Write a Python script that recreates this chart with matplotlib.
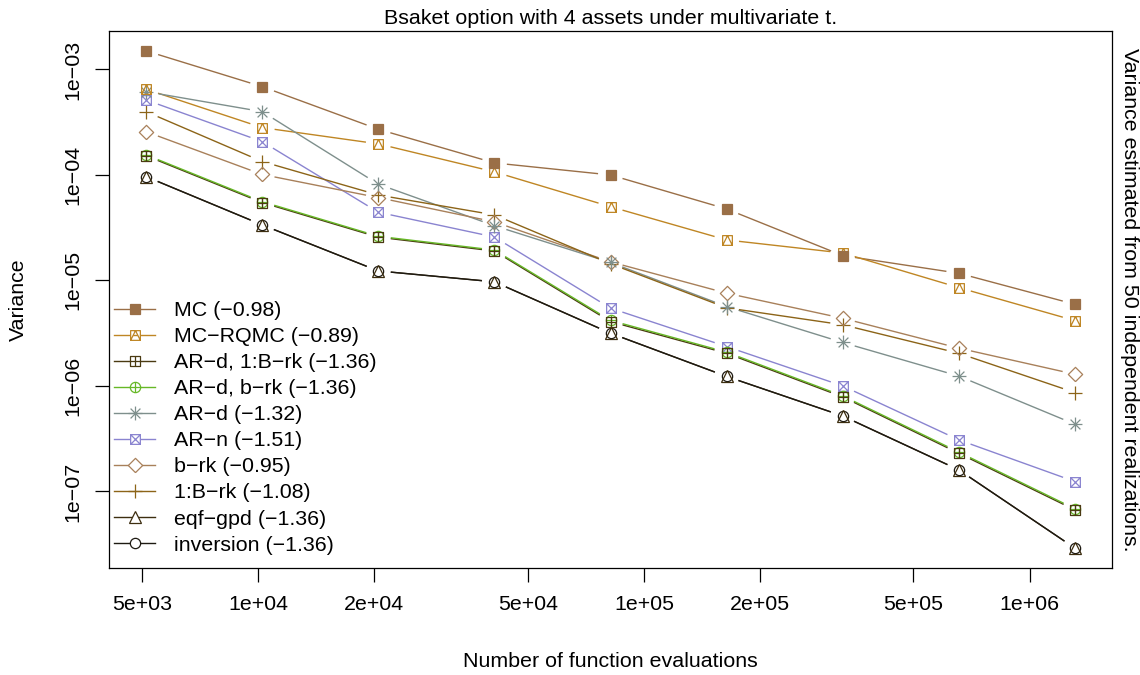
import numpy as np
import matplotlib
matplotlib.use("Agg")
import matplotlib.pyplot as plt
from matplotlib.path import Path
from matplotlib.lines import Line2D
from matplotlib.collections import LineCollection

plt.rcParams['font.family'] = ['Liberation Sans', 'DejaVu Sans']
plt.rcParams['font.size'] = 15.4

# number of function evaluations per run
n_evals = [5120, 10240, 20480, 40960, 81920, 163840, 327680, 655360, 1310720]

# estimated variances for each method
var_mc = [1.50e-3, 6.87e-4, 2.71e-4, 1.30e-4, 1.00e-4, 4.76e-5, 1.72e-5, 1.17e-5, 5.94e-6]
var_mc_rqmc = [6.49e-4, 2.81e-4, 1.97e-4, 1.07e-4, 5.00e-5, 2.42e-5, 1.82e-5, 8.55e-6, 4.16e-6]
var_ard_1brk = [1.52e-4, 5.47e-5, 2.57e-5, 1.90e-5, 4.07e-6, 2.04e-6, 7.87e-7, 2.30e-7, 6.68e-8]
var_ard_brk = [1.55e-4, 5.58e-5, 2.62e-5, 1.94e-5, 4.18e-6, 2.09e-6, 8.05e-7, 2.36e-7, 6.85e-8]
var_ard = [6.16e-4, 3.98e-4, 8.17e-5, 3.30e-5, 1.48e-5, 5.65e-6, 2.58e-6, 1.24e-6, 4.34e-7]
var_arn = [5.14e-4, 2.07e-4, 4.43e-5, 2.58e-5, 5.46e-6, 2.36e-6, 1.00e-6, 3.08e-7, 1.24e-7]
var_brk = [2.57e-4, 1.01e-4, 6.10e-5, 3.59e-5, 1.50e-5, 7.57e-6, 4.38e-6, 2.28e-6, 1.29e-6]
var_1brk = [3.98e-4, 1.34e-4, 6.45e-5, 4.18e-5, 1.44e-5, 5.50e-6, 3.80e-6, 2.04e-6, 8.65e-7]
var_eqf = [9.64e-5, 3.36e-5, 1.23e-5, 9.70e-6, 3.16e-6, 1.23e-6, 5.19e-7, 1.60e-7, 2.90e-8]
var_inv = [9.64e-5, 3.36e-5, 1.23e-5, 9.70e-6, 3.16e-6, 1.23e-6, 5.19e-7, 1.60e-7, 2.90e-8]

labels = ["MC (\u22120.98)", "MC\u2212RQMC (\u22120.89)", "AR\u2212d, 1:B\u2212rk (\u22121.36)",
          "AR\u2212d, b\u2212rk (\u22121.36)", "AR\u2212d (\u22121.32)", "AR\u2212n (\u22121.51)",
          "b\u2212rk (\u22120.95)", "1:B\u2212rk (\u22121.08)", "eqf\u2212gpd (\u22121.36)",
          "inversion (\u22121.36)"]
series = [var_mc, var_mc_rqmc, var_ard_1brk, var_ard_brk, var_ard, var_arn,
          var_brk, var_1brk, var_eqf, var_inv]
colors = ["#9A6F47", "#BF8624", "#4A3A12", "#66B826", "#7E8F8C", "#8A84D0",
          "#A8805A", "#8C6418", "#3D2E10", "#1E1A12"]


def poly_path(lines):
    verts, codes = [], []
    for pl in lines:
        verts += pl
        codes += [Path.MOVETO] + [Path.LINETO] * (len(pl) - 1)
    return Path(verts, codes)


sq = [(-1, -1), (1, -1), (1, 1), (-1, 1), (-1, -1)]
d = 0.7071
sq_tri = poly_path([sq, [(-1, -1), (0, 1), (1, -1)]])
sq_plus = poly_path([sq, [(0, -1), (0, 1)], [(-1, 0), (1, 0)]])
sq_x = poly_path([sq, [(-1, -1), (1, 1)], [(-1, 1), (1, -1)]])
circ_plus = Path.make_compound_path(Path.unit_circle(),
                                    poly_path([[(0, -1), (0, 1)], [(-1, 0), (1, 0)]]))
star = poly_path([[(0, -1), (0, 1)], [(-1, 0), (1, 0)], [(-d, -d), (d, d)], [(-d, d), (d, -d)]])
diamond = poly_path([[(0, -1), (1, 0), (0, 1), (-1, 0), (0, -1)]])

# marker, size (pt), filled
markers = [("s", 6.6, True), (sq_tri, 7.0, False), (sq_plus, 7.0, False),
           (circ_plus, 7.4, False), (star, 10.0, False), (sq_x, 7.0, False),
           (diamond, 10.3, False), ("+", 9.5, False), ("^", 9.0, False),
           ("o", 7.4, False)]

W, H = 1140, 675
fig = plt.figure(figsize=(W / 100, H / 100), dpi=100)
ax = fig.add_axes([109 / W, 1 - 568 / H, (1112 - 109) / W, (568 - 31) / H])
ax.set_xscale("log")
ax.set_yscale("log")

# R-style 4% padding on log axes
lx = np.log10(n_evals)
ly = np.log10(np.concatenate(series))
px = 0.04 * (lx.max() - lx.min())
py = 0.04 * (ly.max() - ly.min())
ax.set_xlim(10 ** (lx.min() - px), 10 ** (lx.max() + px))
ax.set_ylim(10 ** (ly.min() - py), 10 ** (ly.max() + py))

gap = 12.5  # px gap between lines and points
inv = ax.transData.inverted()
for i in range(len(series) - 1, -1, -1):
    v = series[i]
    pts = ax.transData.transform(np.column_stack([n_evals, v]))
    segs = []
    for (x0, y0), (x1, y1) in zip(pts[:-1], pts[1:]):
        dist = np.hypot(x1 - x0, y1 - y0)
        if dist <= 2 * gap:
            continue
        ux, uy = (x1 - x0) / dist, (y1 - y0) / dist
        seg = [(x0 + ux * gap, y0 + uy * gap), (x1 - ux * gap, y1 - uy * gap)]
        segs.append(inv.transform(seg))
    ax.add_collection(LineCollection(segs, colors=colors[i], linewidths=1.0, zorder=2 + i * 0.01))
    m, ms, filled = markers[i]
    ax.plot(n_evals, v, linestyle="none", marker=m, markersize=ms,
            markeredgewidth=0.9, color=colors[i],
            markerfacecolor=colors[i] if filled else "none", zorder=3 + (10 - i) * 0.01)

handles = []
for i in range(len(series)):
    m, ms, filled = markers[i]
    handles.append(Line2D([], [], color=colors[i], lw=1.0, marker=m, markersize=ms,
                          markeredgewidth=0.9,
                          markerfacecolor=colors[i] if filled else "white"))

ax.legend(handles, labels, loc="lower left", bbox_to_anchor=(0.0, 0.015), frameon=False,
          borderaxespad=0.0, borderpad=0.25, handlelength=1.9, handletextpad=0.88,
          labelspacing=0.33)

xt = [5e3, 1e4, 2e4, 5e4, 1e5, 2e5, 5e5, 1e6]
xt_labels = ["5e+03", "1e+04", "2e+04", "5e+04", "1e+05", "2e+05", "5e+05", "1e+06"]
yt = [1e-7, 1e-6, 1e-5, 1e-4, 1e-3]
yt_labels = ["1e\u221207", "1e\u221206", "1e\u221205", "1e\u221204", "1e\u221203"]
ax.set_xticks(xt)
ax.set_xticklabels(xt_labels)
ax.set_yticks(yt)
ax.set_yticklabels(yt_labels, rotation=90, va="center")
ax.minorticks_off()
ax.tick_params(direction="out", length=10, width=0.9, pad=9.5)
for s in ax.spines.values():
    s.set_linewidth(0.9)

ax.set_xlabel("Number of function evaluations", labelpad=27)
ax.set_ylabel("Variance", labelpad=25)
ax.set_title("Bsaket option with 4 assets under multivariate t.", fontsize=15.4, pad=5)
ax.text(1.0 + 18 / (1112 - 109), 0.5, "Variance estimated from 50 independent realizations.",
        transform=ax.transAxes, rotation=-90, va="center", ha="center")

fig.savefig("out.png", dpi=100)
